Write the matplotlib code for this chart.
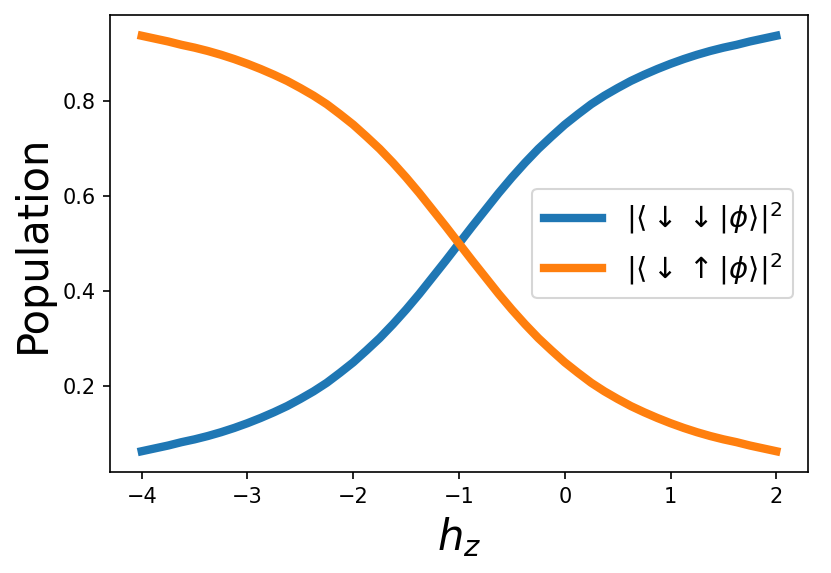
import matplotlib
matplotlib.use("Agg")
import matplotlib.pyplot as plt

# values
hz = [-4.0, -3.875, -3.75, -3.625, -3.5, -3.375, -3.25, -3.125, -3.0, -2.875, -2.75,
      -2.625, -2.5, -2.375, -2.25, -2.125, -2.0, -1.875, -1.75, -1.625, -1.5, -1.375,
      -1.25, -1.125, -1.0, -0.875, -0.75, -0.625, -0.5, -0.375, -0.25, -0.125, 0.0,
      0.125, 0.25, 0.375, 0.5, 0.625, 0.75, 0.875, 1.0, 1.125, 1.25, 1.375, 1.5,
      1.625, 1.75, 1.875, 2.0]
pop_dd = [0.063, 0.069, 0.075, 0.082, 0.088, 0.095, 0.103, 0.112, 0.122, 0.133, 0.145,
          0.158, 0.173, 0.189, 0.207, 0.228, 0.250, 0.275, 0.301, 0.330, 0.361, 0.394,
          0.429, 0.464, 0.500, 0.536, 0.571, 0.606, 0.639, 0.670, 0.699, 0.725, 0.750,
          0.772, 0.793, 0.811, 0.827, 0.842, 0.855, 0.867, 0.878, 0.888, 0.897, 0.905,
          0.912, 0.918, 0.925, 0.931, 0.937]
pop_du = [0.937, 0.931, 0.925, 0.918, 0.912, 0.905, 0.897, 0.888, 0.878, 0.867, 0.855,
          0.842, 0.827, 0.811, 0.793, 0.772, 0.750, 0.725, 0.699, 0.670, 0.639, 0.606,
          0.571, 0.536, 0.500, 0.464, 0.429, 0.394, 0.361, 0.330, 0.301, 0.275, 0.250,
          0.228, 0.207, 0.189, 0.173, 0.158, 0.145, 0.133, 0.122, 0.112, 0.103, 0.095,
          0.088, 0.082, 0.075, 0.069, 0.063]

fig = plt.figure(figsize=(5.54, 3.82), dpi=150)
ax = fig.add_axes([110/831, 1 - 472/573, 698/831, 457/573])

ax.plot(hz, pop_dd, lw=4, color='#1f77b4', label=r'$|\langle\downarrow\downarrow|\phi\rangle|^2$')
ax.plot(hz, pop_du, lw=4, color='#ff7f0e', label=r'$|\langle\downarrow\uparrow|\phi\rangle|^2$')

ax.set_xlabel(r'$h_z$', fontsize=20)
ax.set_ylabel('Population', fontsize=20)
ax.set_yticks([0.2, 0.4, 0.6, 0.8])
ax.legend(fontsize=14, loc='center right')

plt.savefig("out.png", dpi=150)
